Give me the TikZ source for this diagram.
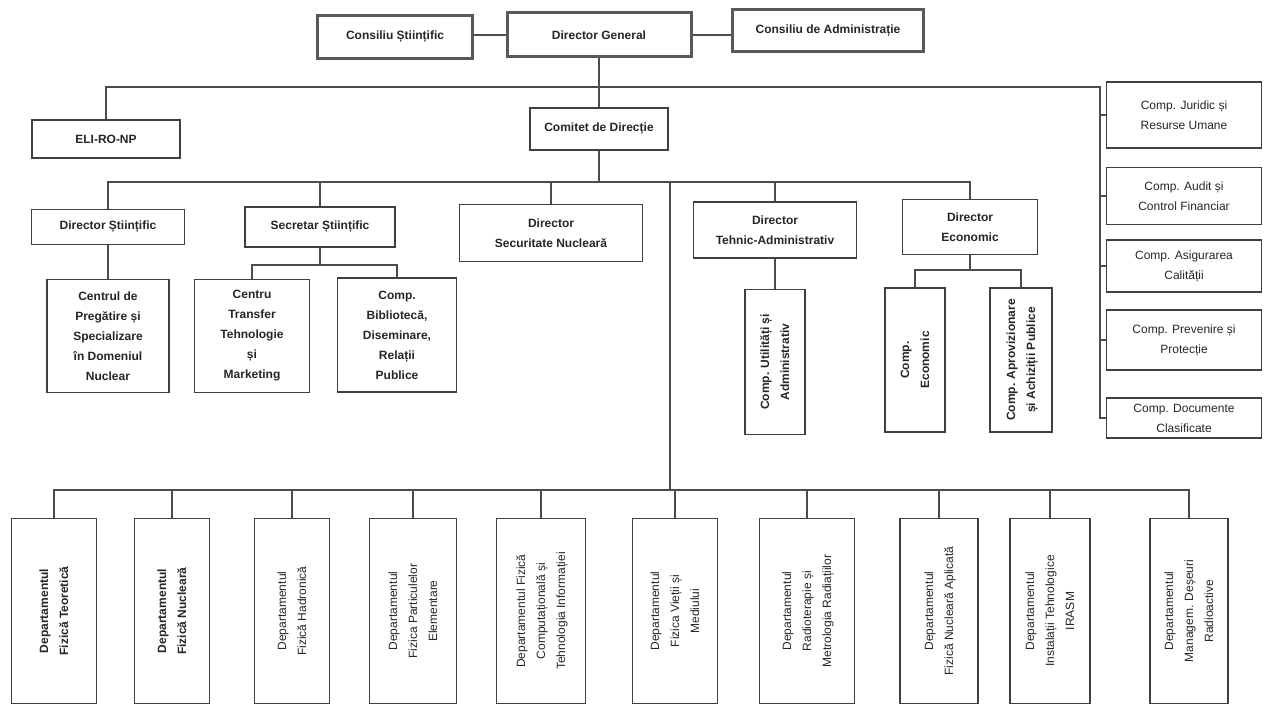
\documentclass[tikz,border=0pt]{standalone}
\usepackage{fontspec}
\setmainfont{Liberation Sans}
\usepackage{graphicx}
\usetikzlibrary{positioning}

% text turned to read from bottom to top
\newcommand{\uptext}[1]{\rotatebox{90}{\begin{tabular}{@{}c@{}}#1\end{tabular}}}

\tikzset{
  box/.style={draw=black!75, line width=1.2pt, fill=white, inner sep=2pt,
    align=center, text=black!85, font=\fontsize{12}{20}\selectfont},
  boldbox/.style={box, font=\fontsize{12}{20}\selectfont\bfseries},
  headbox/.style={boldbox, line width=3pt, draw=black!65},
  deptbox/.style={box, minimum height=185pt},
  wire/.style={draw=black!70, line width=1.2pt}
}

\begin{document}
\begin{tikzpicture}[x=1pt,y=-1pt]
\useasboundingbox (0,0) rectangle (1268,708);

% conducere
\node[headbox, minimum width=155pt, minimum height=43pt] (CS)  at (395,37)  {Consiliu Științific};
\node[headbox, minimum width=184pt, minimum height=44pt] (DG)  at (599,35)  {Director General};
\node[headbox, minimum width=191pt, minimum height=42pt] (CA)  at (828,31)  {Consiliu de Administrație};
\node[boldbox, minimum width=148pt, minimum height=38pt] (ELI) at (106,139) {ELI-RO-NP};
\node[boldbox, minimum width=138pt, minimum height=42pt] (CD)  at (599,129) {Comitet de Direcție};

% compartimente subordonate direct
\node[box, minimum width=155pt, minimum height=66pt] (JUR)  at (1184,115) {Comp. Juridic și\\Resurse Umane};
\node[box, minimum width=155pt, minimum height=57pt] (AUD)  at (1184,196) {Comp. Audit și\\Control Financiar};
\node[box, minimum width=155pt, minimum height=52pt] (CAL)  at (1184,266) {Comp. Asigurarea\\Calității};
\node[box, minimum width=155pt, minimum height=60pt] (PREV) at (1184,340) {Comp. Prevenire și\\Protecție};
\node[box, minimum width=155pt, minimum height=40pt] (DOC)  at (1184,418) {Comp. Documente\\Clasificate};

% directori
\node[boldbox, minimum width=153pt, minimum height=35pt] (DS)  at (108,227) {Director Științific};
\node[boldbox, minimum width=150pt, minimum height=40pt] (SS)  at (320,227) {Secretar Științific};
\node[boldbox, minimum width=183pt, minimum height=57pt] (DSN) at (551,233) {Director\\Securitate Nucleară};
\node[boldbox, minimum width=163pt, minimum height=56pt] (DTA) at (775,230) {Director\\Tehnic-Administrativ};
\node[boldbox, minimum width=135pt, minimum height=55pt] (DE)  at (970,227) {Director\\Economic};

% structuri ale directorilor
\node[boldbox, minimum width=122pt, minimum height=113pt] (CP)  at (108,336) {Centrul de\\Pregătire și\\Specializare\\în Domeniul\\Nuclear};
\node[boldbox, minimum width=115pt, minimum height=113pt] (CT)  at (252,336) {Centru\\Transfer\\Tehnologie\\și\\Marketing};
\node[boldbox, minimum width=119pt, minimum height=114pt] (CB)  at (397,335) {Comp.\\Bibliotecă,\\Diseminare,\\Relații\\Publice};
\node[boldbox, minimum width=60pt, minimum height=145pt]  (CU)  at (775,362) {\uptext{Comp. Utilități și\\Administrativ}};
\node[boldbox, minimum width=60pt, minimum height=144pt]  (CE)  at (915,360) {\uptext{Comp.\\Economic}};
\node[boldbox, minimum width=62pt, minimum height=144pt]  (CAP) at (1021,360) {\uptext{Comp. Aprovizionare\\și Achiziții Publice}};

% departamente
\node[deptbox, font=\fontsize{12}{20}\selectfont\bfseries, minimum width=85pt] (D1)  at (54,611)   {\uptext{Departamentul\\Fizică Teoretică}};
\node[deptbox, font=\fontsize{12}{20}\selectfont\bfseries, minimum width=75pt] (D2)  at (172,611)  {\uptext{Departamentul\\Fizică Nucleară}};
\node[deptbox, minimum width=75pt] (D3)  at (292,611)  {\uptext{Departamentul\\Fizică Hadronică}};
\node[deptbox, minimum width=87pt] (D4)  at (413,611)  {\uptext{Departamentul\\Fizica Particulelor\\Elementare}};
\node[deptbox, minimum width=89pt] (D5)  at (541,611)  {\uptext{Departamentul Fizică\\Computațională și\\Tehnologia Informației}};
\node[deptbox, minimum width=85pt] (D6)  at (675,611)  {\uptext{Departamentul\\Fizica Vieții și\\Mediului}};
\node[deptbox, minimum width=95pt] (D7)  at (807,611)  {\uptext{Departamentul\\Radioterapie și\\Metrologia Radiațiilor}};
\node[deptbox, minimum width=78pt] (D8)  at (939,611)  {\uptext{Departamentul\\Fizică Nucleară Aplicată}};
\node[deptbox, minimum width=80pt] (D9)  at (1050,611) {\uptext{Departamentul\\Instalații Tehnologice\\IRASM}};
\node[deptbox, minimum width=78pt] (D10) at (1189,611) {\uptext{Departamentul\\Managem. Deșeuri\\Radioactive}};

% puncte de ramificare
\coordinate (gbus)  at (599,87);
\coordinate (rtop)  at (1100,87);
\coordinate (cdbus) at (599,182);
\coordinate (vtop)  at (670,182);
\coordinate (vbot)  at (670,490);
\coordinate (ssbus) at (320,265);
\coordinate (debus) at (970,270);

% legaturi
\draw[wire] (DG.west) -- (DG.west -| CS.east);
\draw[wire] (DG.east) -- (DG.east -| CA.west);
\draw[wire] (DG) -- (CD);
\draw[wire] (ELI.north) |- (gbus) -- (rtop) |- (DOC.west);
\foreach \n in {JUR,AUD,CAL,PREV}
  \draw[wire] (\n.west) -- (\n.west -| rtop);

\draw[wire] (CD.south) -- (cdbus);
\draw[wire] (DS.north) |- (cdbus) -| (DE.north);
\foreach \n in {SS,DSN,DTA}
  \draw[wire] (\n.north) -- (\n.north |- cdbus);

\draw[wire] (DS) -- (CP);
\draw[wire] (SS.south) -- (ssbus);
\draw[wire] (CT.north) |- (ssbus) -| (CB.north);
\draw[wire] (DTA) -- (CU);
\draw[wire] (DE.south) -- (debus);
\draw[wire] (CE.north) |- (debus) -| (CAP.north);

\draw[wire] (vtop) -- (vbot);
\draw[wire] (D1.north) |- (vbot) -| (D10.north);
\foreach \n in {D2,D3,D4,D5,D6,D7,D8,D9}
  \draw[wire] (\n.north) -- (\n.north |- vbot);
\end{tikzpicture}
\end{document}
